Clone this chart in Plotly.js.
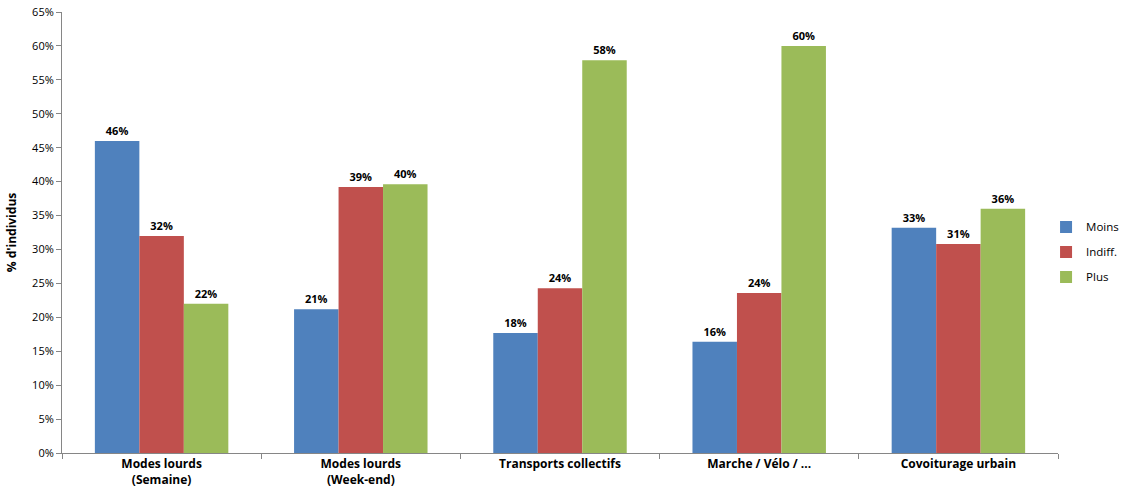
<!DOCTYPE html>
<html><head><meta charset="utf-8">
<script src="https://cdn.plot.ly/plotly-3.0.1.min.js"></script>
<style>html,body{margin:0;padding:0;background:#fff}#chart{width:1126px;height:499px}</style>
</head><body><div id="chart"></div>
<script>
const categories = ["Modes lourds<br>(Semaine)", "Modes lourds<br>(Week-end)", "Transports collectifs", "Marche / Vélo / ...", "Covoiturage urbain"];
const moins = [46.0, 21.2, 17.7, 16.4, 33.2];
const indiff = [32.0, 39.2, 24.3, 23.6, 30.8];
const plus = [22.0, 39.6, 57.9, 60.0, 36.0];
const seriesNames = ["Moins", "Indiff.", "Plus"];
const colors = ["#4F81BD", "#C0504D", "#9BBB59"];
const font = "Open Sans, Liberation Sans, sans-serif";
const data = [moins, indiff, plus].map((vals, i) => ({
  type: "bar", x: categories, y: vals, name: seriesNames[i], legendgroup: "g" + i,
  marker: {color: colors[i]},
  texttemplate: "%{y:.0f}%", textposition: "outside", cliponaxis: false,
  textfont: {family: font, size: 11, color: "#000", weight: "bold"},
  hoverinfo: "none"
}));
const layout = {
  width: 1126, height: 499,
  margin: {l: 62, r: 68, t: 12, b: 46, autoexpand: false},
  barmode: "group", bargap: 0.33, bargroupgap: 0,
  font: {family: font, size: 11, color: "#000"},
  paper_bgcolor: "#fff", plot_bgcolor: "#fff",
  yaxis: {range: [0, 65], dtick: 5, ticksuffix: "%", showgrid: false,
    showline: true, linecolor: "#868686", ticks: "outside", ticklen: 5, tickcolor: "#868686",
    tickfont: {family: font, size: 11, color: "#000"}, zeroline: false,
    title: {text: "% d'individus", font: {family: font, size: 12, weight: "bold"}, standoff: 12}},
  xaxis: {showline: true, linecolor: "#868686", ticks: "outside", tickson: "boundaries",
    ticklen: 5, tickcolor: "#868686", showgrid: false,
    tickfont: {family: font, size: 12, color: "#000", weight: "bold"}},
  legend: {xref: "container", yref: "container", x: 0.929, y: 0.495, yanchor: "middle", xanchor: "left",
    font: {family: font, size: 11.5}, itemwidth: 30, tracegroupgap: 6, bgcolor: "rgba(0,0,0,0)"},
  uniformtext: {mode: false}
};
Plotly.newPlot("chart", data, layout, {displayModeBar: false, staticPlot: true});
</script></body></html>
